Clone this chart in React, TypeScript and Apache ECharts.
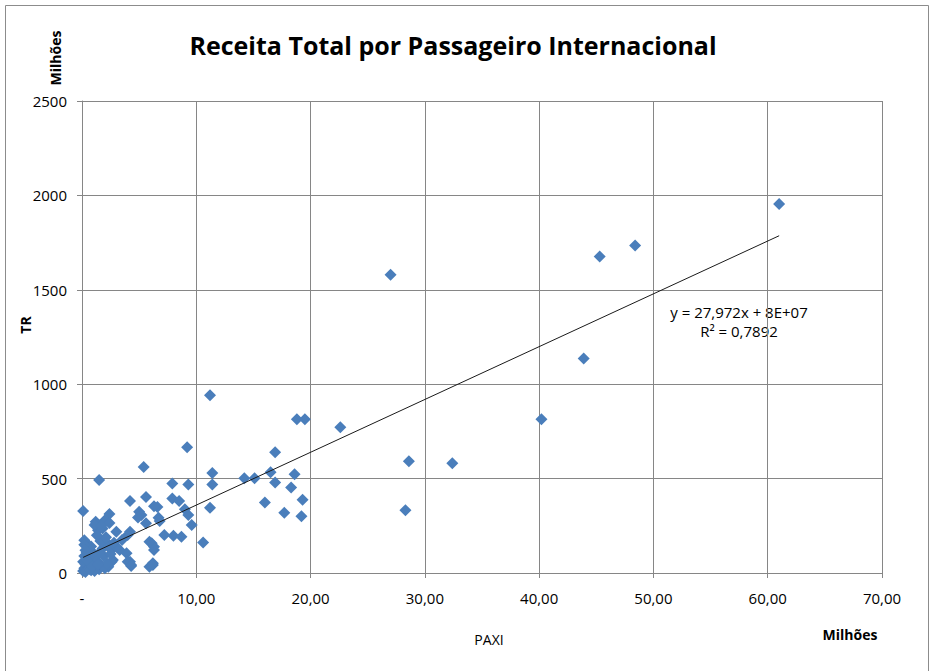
import React, { useEffect, useRef } from "react";
import * as echarts from "echarts";

// PAXI (milhões) and TR (milhões)
const paxi: number[] = [
  61.0, 48.4, 45.3, 43.9, 27.0, 40.2, 22.6, 28.6, 32.4, 28.3,
  11.2, 9.2, 18.8, 19.5, 16.9, 14.2, 15.1, 16.5, 16.9, 18.6, 18.3, 16.0, 19.3, 17.7, 19.2,
  11.4, 11.4, 11.2, 7.9, 9.3, 7.9, 8.5, 6.6, 9.0, 9.3, 6.7, 9.6, 7.2, 8.0, 8.7, 10.6, 6.1, 6.3, 6.2,
  5.4, 1.5, 4.2, 5.6, 0.1, 5.0, 5.2, 4.9, 2.4, 6.8, 5.6, 1.2, 1.6, 1.8, 1.4, 1.1, 3.0, 4.2, 4.0, 5.9,
  6.2, 2.4, 2.7, 1.8, 3.9, 0.7, 1.0, 2.7, 4.2, 4.3, 0.2, 0.4, 2.0, 2.3, 3.0, 3.3, 2.6, 2.3, 4.0, 4.3,
  5.9, 6.3, 6.3,
  0.1, 0.2, 0.3, 0.1, 0.5, 0.2, 0.4, 0.6, 0.8, 1.0, 1.2, 0.9, 1.5, 1.7, 1.3, 2.0, 2.2, 1.9, 0.3, 0.6,
  1.1, 2.5, 0.5, 0.8, 1.4, 0.2, 1.6, 2.1, 1.3, 2.8, 3.5, 2.0, 2.4, 1.7, 0.7, 0.4, 0.3, 0.9, 1.4,
];
const tr: number[] = [
  1955, 1734, 1676, 1136, 1580, 814, 772, 592, 581, 333,
  941, 666, 814, 814, 640, 502, 502, 534, 479, 523, 453, 374, 388, 319, 301,
  530, 469, 345, 474, 469, 395, 382, 350, 337, 307, 292, 254, 201, 197, 192, 162, 157, 139, 51,
  562, 492, 381, 403, 328, 324, 307, 294, 312, 276, 263, 271, 254, 236, 227, 254, 218, 218, 201, 165,
  42, 148, 130, 130, 104, 122, 104, 69, 60, 37, 174, 157, 157, 139, 139, 122, 60, 33, 60, 42,
  33, 122, 354,
  10, 25, 45, 60, 75, 90, 110, 30, 15, 50, 30, 80, 20, 40, 65, 25, 50, 90, 5, 55,
  10, 100, 130, 140, 100, 150, 170, 190, 200, 160, 175, 280, 265, 250, 20, 70, 120, 35, 45,
];

const slope = 27.972;
const intercept = 80; // 8E+07 expressed in milhões
const xTicks = [0, 10, 20, 30, 40, 50, 60, 70];
const yTicks = [0, 500, 1000, 1500, 2000, 2500];

const title = "Receita Total por Passageiro Internacional";
const eqText = "y = 27,972x + 8E+07";
const r2Text = "R² = 0,7892";

export default function App() {
  const ref = useRef<HTMLDivElement>(null);
  useEffect(() => {
    if (!ref.current) return;
    const chart = echarts.init(ref.current, null, { renderer: "svg" });
    const points = paxi.map((x, i) => [x, tr[i]]);
    const xMin = Math.min(...paxi);
    const xMax = Math.max(...paxi);
    const trend = [
      [xMin, slope * xMin + intercept],
      [xMax, slope * xMax + intercept],
    ];
    const font = "Open Sans";
    chart.setOption({
      animation: false,
      backgroundColor: "#ffffff",
      textStyle: { fontFamily: font },
      grid: { left: 82, top: 101, width: 800, height: 472, containLabel: false },
      xAxis: {
        type: "value",
        min: xTicks[0],
        max: xTicks[xTicks.length - 1],
        interval: 10,
        axisLine: { show: true, lineStyle: { color: "#868686", width: 1 } },
        axisTick: { show: true, length: 5, lineStyle: { color: "#868686" } },
        splitLine: { show: true, lineStyle: { color: "#868686", width: 1 } },
        axisLabel: {
          color: "#000",
          fontSize: 15,
          fontFamily: font,
          margin: 17,
          formatter: (v: number) => (v === 0 ? "-" : v.toFixed(2).replace(".", ",")),
        },
      },
      yAxis: {
        type: "value",
        min: yTicks[0],
        max: yTicks[yTicks.length - 1],
        interval: 500,
        axisLine: { show: true, lineStyle: { color: "#868686", width: 1 } },
        axisTick: { show: true, length: 5, lineStyle: { color: "#868686" } },
        splitLine: { show: true, lineStyle: { color: "#868686", width: 1 } },
        axisLabel: {
          color: "#000",
          fontSize: 15,
          fontFamily: font,
          margin: 15,
          formatter: (v: number) => String(v),
        },
      },
      series: [
        {
          type: "scatter",
          data: points,
          symbol: "diamond",
          symbolSize: 12,
          itemStyle: { color: "#4a7ebb", opacity: 1 },
          z: 3,
        },
        {
          type: "line",
          data: trend,
          symbol: "none",
          lineStyle: { color: "#1a1a1a", width: 1 },
          z: 4,
        },
      ],
      graphic: [
        {
          type: "rect",
          shape: { x: 5.5, y: 5.5, width: 923, height: 700 },
          style: { fill: "none", stroke: "#8c8c8c", lineWidth: 1 },
          silent: true,
        },
        {
          type: "text",
          x: 453,
          y: 45,
          style: {
            text: title,
            fontFamily: font,
            fontSize: 25,
            fontWeight: "bold",
            fill: "#000",
            align: "center",
            verticalAlign: "middle",
          },
        },
        {
          type: "text",
          x: 55,
          y: 58,
          rotation: Math.PI / 2,
          style: {
            text: "Milhões",
            fontFamily: font,
            fontSize: 14,
            fontWeight: "bold",
            fill: "#000",
            align: "center",
            verticalAlign: "middle",
          },
        },
        {
          type: "text",
          x: 25,
          y: 325,
          rotation: Math.PI / 2,
          style: {
            text: "TR",
            fontFamily: font,
            fontSize: 14,
            fontWeight: "bold",
            fill: "#000",
            align: "center",
            verticalAlign: "middle",
          },
        },
        {
          type: "text",
          x: 489,
          y: 639,
          style: {
            text: "PAXI",
            fontFamily: font,
            fontSize: 14,
            fill: "#000",
            align: "center",
            verticalAlign: "middle",
          },
        },
        {
          type: "text",
          x: 850,
          y: 634,
          style: {
            text: "Milhões",
            fontFamily: font,
            fontSize: 14,
            fontWeight: "bold",
            fill: "#000",
            align: "center",
            verticalAlign: "middle",
          },
        },
        {
          type: "text",
          x: 739,
          y: 312,
          style: {
            text: eqText,
            fontFamily: font,
            fontSize: 15,
            fill: "#000",
            align: "center",
            verticalAlign: "middle",
          },
        },
        {
          type: "text",
          x: 739,
          y: 331,
          style: {
            text: r2Text,
            fontFamily: font,
            fontSize: 15,
            fill: "#000",
            align: "center",
            verticalAlign: "middle",
          },
        },
      ],
    });
    return () => chart.dispose();
  }, []);
  return (
    <div
      ref={ref}
      style={{ position: "fixed", left: 0, top: 0, width: 934, height: 671 }}
    />
  );
}
